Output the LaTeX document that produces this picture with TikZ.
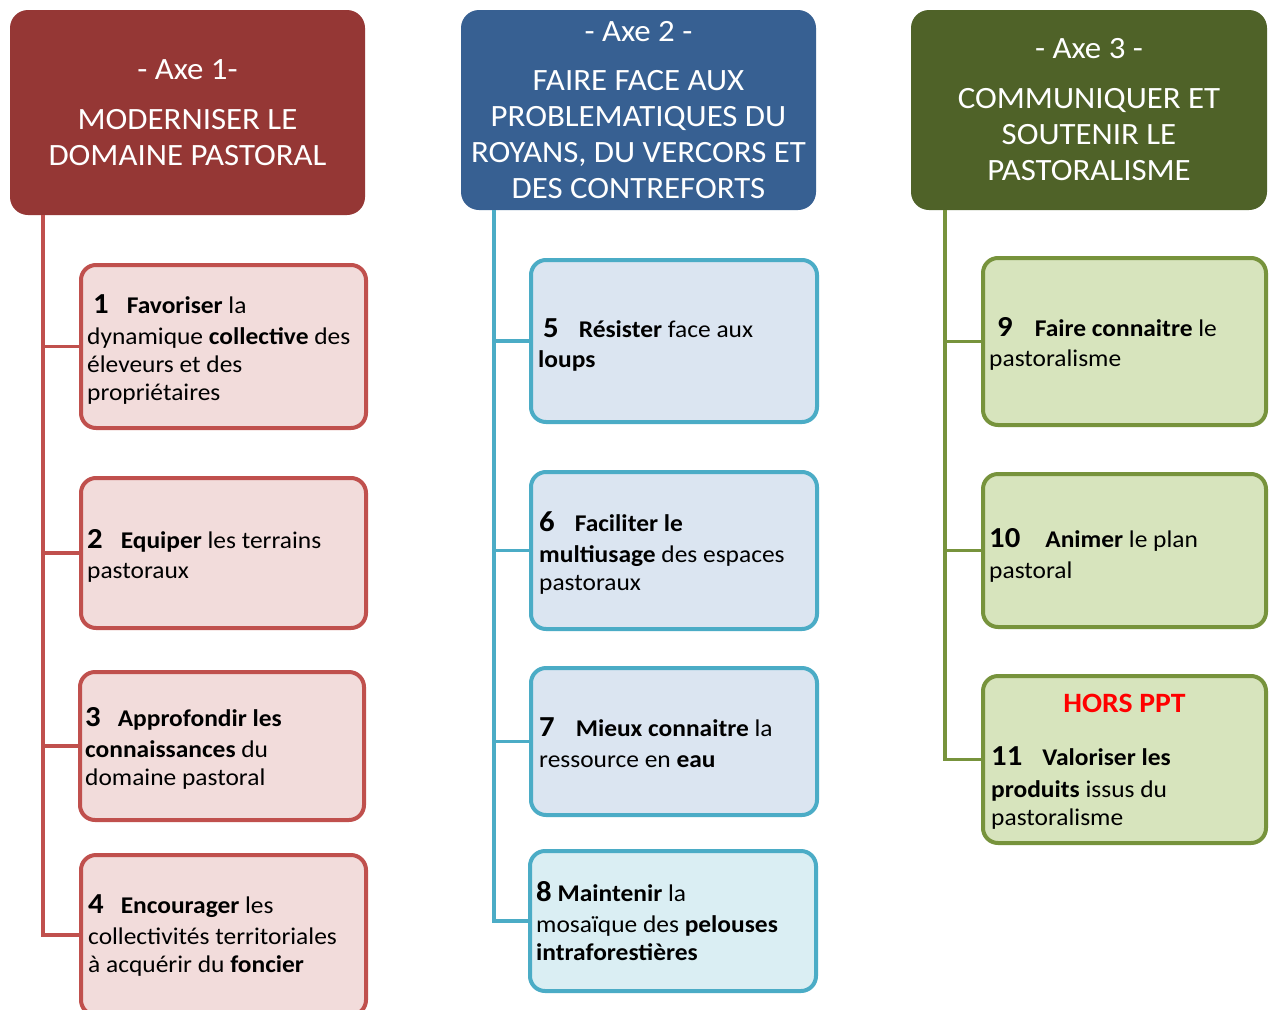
\documentclass[tikz,border=0pt]{standalone}
\usepackage{fontspec}
\setmainfont{Carlito}[FakeStretch=1.06]
\definecolor{hA}{HTML}{953735}
\definecolor{hB}{HTML}{376092}
\definecolor{hC}{HTML}{4F6228}
\definecolor{lA}{HTML}{C0504D}
\definecolor{fA}{HTML}{F2DCDB}
\definecolor{lB}{HTML}{4BACC6}
\definecolor{fB}{HTML}{DBE5F1}
\definecolor{fBb}{HTML}{DAEEF3}
\definecolor{lC}{HTML}{77933C}
\definecolor{fC}{HTML}{D7E4BD}
\newcommand{\nb}[1]{{\fontsize{29}{28}\selectfont\bfseries #1}}
\tikzset{
  head/.style={rounded corners=18pt, inner sep=0pt, text=white, align=center,
    font=\fontsize{31}{36}\selectfont},
  boxA/.style={draw=lA, fill=fA, line width=4pt, rounded corners=15pt, inner sep=0pt},
  boxB/.style={draw=lB, fill=fB, line width=4pt, rounded corners=15pt, inner sep=0pt},
  boxC/.style={draw=lC, fill=fC, line width=4pt, rounded corners=15pt, inner sep=0pt},
  txt/.style={anchor=west, inner sep=0pt, align=left, font=\fontsize{24}{28}\selectfont},
  linkA/.style={draw=lA, line width=3.5pt},
  linkB/.style={draw=lB, line width=3.5pt},
  linkC/.style={draw=lC, line width=3.5pt},
}
\begin{document}
\begin{tikzpicture}[x=1pt,y=-1pt]
\clip (0,0) rectangle (1270,1010);
\fill[white] (0,0) rectangle (1270,1010);

% headers
\node[head, fill=hA, minimum width=355pt, minimum height=205pt] (h1) at (187.5,112.5)
  {- Axe 1-\\[14pt]MODERNISER LE\\DOMAINE PASTORAL};
\node[head, fill=hB, minimum width=355pt, minimum height=200pt] (h2) at (638.5,110)
  {- Axe 2 -\\[13pt]FAIRE FACE AUX\\PROBLEMATIQUES DU\\ROYANS, DU VERCORS ET\\DES CONTREFORTS};
\node[head, fill=hC, minimum width=356pt, minimum height=200pt] (h3) at (1089,110)
  {- Axe 3 -\\[14pt]COMMUNIQUER ET\\SOUTENIR LE\\PASTORALISME};

% column 1 boxes
\node[boxA, minimum width=285pt, minimum height=163pt] (b1) at (223.5,346.5) {};
\node[boxA, minimum width=285pt, minimum height=150pt] (b2) at (223.5,553) {};
\node[boxA, minimum width=284pt, minimum height=148pt] (b3) at (222,746) {};
\node[boxA, minimum width=285pt, minimum height=160pt] (b4) at (223.5,935) {};

% column 2 boxes
\node[boxB, minimum width=286pt, minimum height=162pt] (b5) at (674,341) {};
\node[boxB, minimum width=286pt, minimum height=157pt] (b6) at (674,550.5) {};
\node[boxB, minimum width=286pt, minimum height=147pt] (b7) at (674,741.5) {};
\node[boxB, fill=fBb, minimum width=286pt, minimum height=140pt] (b8) at (673,921) {};

% column 3 boxes
\node[boxC, minimum width=283pt, minimum height=167pt] (b9) at (1124.5,341.5) {};
\node[boxC, minimum width=283pt, minimum height=153pt] (b10) at (1124.5,550.5) {};
\node[boxC, minimum width=283pt, minimum height=167pt] (b11) at (1124.5,759.5) {};

% connectors
\coordinate (s1) at ([xshift=33pt]h1.south west);
\coordinate (s2) at ([xshift=33pt]h2.south west);
\coordinate (s3) at ([xshift=34pt]h3.south west);
\draw[linkA] (s1) |- (b4.west);
\draw[linkA] (s1 |- b1.west) -- (b1.west);
\draw[linkA] (s1 |- b2.west) -- (b2.west);
\draw[linkA] (s1 |- b3.west) -- (b3.west);
\draw[linkB] (s2) |- (b8.west);
\draw[linkB] (s2 |- b5.west) -- (b5.west);
\draw[linkB] (s2 |- b6.west) -- (b6.west);
\draw[linkB] (s2 |- b7.west) -- (b7.west);
\draw[linkC] (s3) |- (b11.west);
\draw[linkC] (s3 |- b9.west) -- (b9.west);
\draw[linkC] (s3 |- b10.west) -- (b10.west);

% texts
\node[txt] (t1) at ([xshift=8pt,yshift=-3.5pt]b1.west)
  {\hspace{6pt}\nb{1}\hspace{18pt}\textbf{Favoriser} la\\[3pt]dynamique \textbf{collective} des\\éleveurs et des\\propriétaires};
\node[txt] (t2) at ([xshift=8pt,yshift=-3pt]b2.west)
  {\nb{2}\hspace{18pt}\textbf{Equiper} les terrains\\[2pt]pastoraux};
\node[txt] (t3) at ([xshift=7pt,yshift=-2pt]b3.west)
  {\nb{3}\hspace{17pt}\textbf{Approfondir les}\\[3pt]\textbf{connaissances} du\\domaine pastoral};
\node[txt] (t4) at ([xshift=9pt,yshift=-1pt]b4.west)
  {\nb{4}\hspace{17pt}\textbf{Encourager} les\\[3pt]collectivités territoriales\\à acquérir du \textbf{foncier}};
\node[txt] (t5) at ([xshift=9pt,yshift=-3.5pt]b5.west)
  {\hspace{5pt}\nb{5}\hspace{20pt}\textbf{Résister} face aux\\[2pt]\textbf{loups}};
\node[txt] (t6) at ([xshift=10pt,yshift=-2.5pt]b6.west)
  {\nb{6}\hspace{20pt}\textbf{Faciliter le}\\[3pt]\textbf{multiusage} des espaces\\pastoraux};
\node[txt] (t7) at ([xshift=10pt,yshift=-1pt]b7.west)
  {\nb{7}\hspace{21pt}\textbf{Mieux connaitre} la\\[3pt]ressource en \textbf{eau}};
\node[txt] (t8) at ([xshift=8pt]b8.west)
  {\nb{8} \textbf{Maintenir} la\\[3pt]mosaïque des \textbf{pelouses}\\\textbf{intraforestières}};
\node[txt] (t9) at ([xshift=8pt,yshift=-2pt]b9.west)
  {\hspace{8pt}\nb{9}\hspace{22pt}\textbf{Faire connaitre} le\\[2pt]pastoralisme};
\node[txt] (t10) at ([xshift=8pt,yshift=-5pt]b10.west)
  {\nb{10}\hspace{25pt}\textbf{Animer} le plan\\[3pt]pastoral};
\node[txt, font=\fontsize{28}{28}\selectfont\bfseries, text=red, anchor=center] (hp) at (1124.5,703) {HORS PPT};
\node[txt, anchor=north west] (t11) at (991,746)
  {\nb{11}\hspace{20pt}\textbf{Valoriser les}\\[4pt]\textbf{produits} issus du\\pastoralisme};
\end{tikzpicture}
\end{document}
